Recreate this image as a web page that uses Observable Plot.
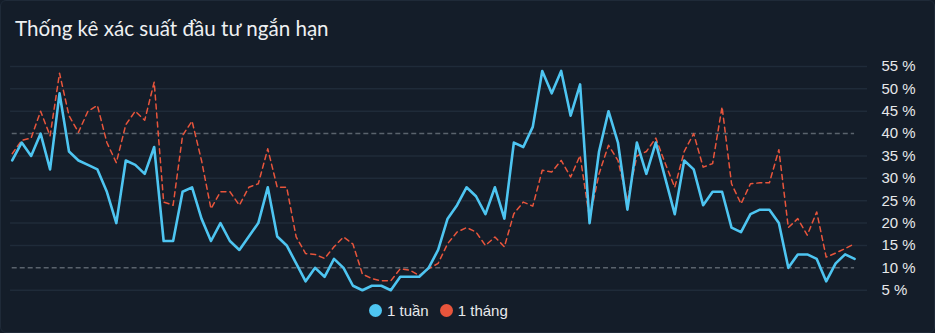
<!DOCTYPE html>
<html><head><meta charset="utf-8">
<script src="https://cdn.jsdelivr.net/npm/d3@7"></script>
<script src="https://cdn.jsdelivr.net/npm/@observablehq/plot@0.6"></script>
<style>
html,body{margin:0;padding:0;background:#141d29;}
#card{position:relative;box-sizing:border-box;width:935px;height:333px;border:1px solid #1f2a38;border-radius:6px;background:#141d29;overflow:hidden;}
#title{position:absolute;left:14px;top:15px;font-family:Lato,"Open Sans",sans-serif;font-size:20.6px;line-height:1.2;color:#eef0f2;white-space:nowrap;}
#chart{position:absolute;left:-1px;top:49px;}
#legend{position:absolute;left:368px;top:301px;display:flex;align-items:center;font-family:"Liberation Sans",Arial,sans-serif;font-size:15px;color:#e8eaec;}
.item{display:flex;align-items:center;margin-right:11px;}
.dot{width:13px;height:13px;border-radius:50%;margin-right:5px;display:inline-block;}
</style>
</head><body>
<div id="card">
  <div id="title"></div>
  <div id="chart"></div>
  <div id="legend"></div>
</div>
<script>
const title = "Thống kê xác suất đầu tư ngắn hạn";
const seriesNames = ["1 tuần", "1 tháng"];
const seriesColors = ["#4ec5f1", "#e8553c"];
const yTicks = [5, 10, 15, 20, 25, 30, 35, 40, 45, 50, 55];
const dashedTicks = [10, 40];

const week = [34, 38, 35, 40, 32, 49, 36, 34, 33, 32, 27, 20, 34, 33, 31, 37,
  16, 16, 27, 28, 21, 16, 20, 16, 14, 17, 20, 28, 17, 15, 11,
  7, 10, 8, 12, 10, 6, 5, 6, 6, 5, 8, 8, 8, 10, 14,
  21, 24, 28, 26, 22, 28, 21, 38, 37, 41.5, 54, 49, 54, 44, 51,
  20, 36, 45, 38, 23, 38, 31, 38, 30, 22, 34, 32, 24, 27, 27, 19, 18, 22, 23, 23, 20, 10, 13, 13, 12, 7, 11, 13, 12];

const month = [35.5, 38.5, 39, 45, 39.5, 53.5, 44, 40.3, 45, 46.3, 38, 33.5, 42, 45, 43, 51.5,
  24.7, 24, 39.6, 42.8, 34, 23.2, 27, 27, 24, 28, 28.8, 36.6, 28, 28, 16.9,
  13.2, 13, 12.1, 14.7, 16.9, 15.3, 8.6, 7.6, 7.1, 7.1, 9.8, 9.5, 8.3, 9.8, 11,
  15.4, 18, 19, 18, 15, 16.9, 14.7, 22.1, 24.7, 23.8, 31.8, 31.4, 34, 30.3, 35.1,
  21, 31, 37.4, 34, 25, 35, 36, 39, 33.3, 28, 36, 40, 32.5, 33.3, 46, 28.8, 24.3, 28.8, 29, 29, 36.4, 19, 21, 17.3, 22.5, 12.4, 13.3, 14.3, 15.4];

document.getElementById("title").textContent = title;

const solidTicks = yTicks.filter(t => !dashedTicks.includes(t));
const n = week.length;

const plot = Plot.plot({
  width: 935,
  height: 250,
  marginTop: 16,
  marginBottom: 10,
  marginLeft: 10,
  marginRight: 67,
  style: {background: "transparent", fontFamily: "'Liberation Sans', Arial, sans-serif", fontSize: "15px", color: "#e6e8ea"},
  x: {domain: [-0.18, n + 0.37], axis: null},
  y: {domain: [5, 55], axis: null},
  marks: [
    Plot.ruleY(solidTicks, {stroke: "#1f2b39", strokeWidth: 1.5}),
    Plot.ruleY(dashedTicks, {x1: 0, x2: n - 1, stroke: "#5a636d", strokeWidth: 1.5, strokeDasharray: "5,3"}),
    Plot.axisY(yTicks, {anchor: "right", tickSize: 0, tickPadding: 14, tickFormat: d => d + " %", fill: "#e6e8ea", fontSize: 15}),
    Plot.line(month, {x: (d, i) => i, y: d => d, stroke: seriesColors[1], strokeWidth: 1.5, strokeDasharray: "5,4"}),
    Plot.line(week, {x: (d, i) => i, y: d => d, stroke: seriesColors[0], strokeWidth: 2.6})
  ]
});
document.getElementById("chart").appendChild(plot);

const legend = document.getElementById("legend");
seriesNames.forEach((name, i) => {
  const item = document.createElement("div");
  item.className = "item";
  const dot = document.createElement("span");
  dot.className = "dot";
  dot.style.background = seriesColors[i];
  const label = document.createElement("span");
  label.textContent = name;
  item.appendChild(dot);
  item.appendChild(label);
  legend.appendChild(item);
});
</script>
</body></html>
